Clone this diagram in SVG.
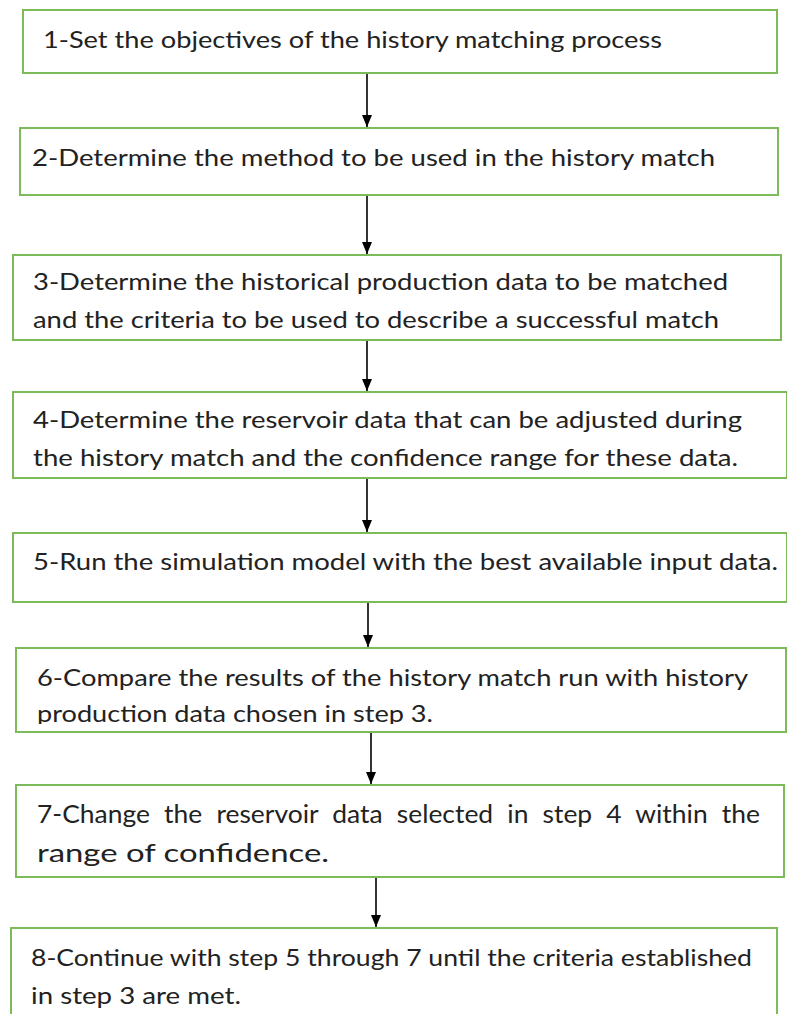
<svg xmlns="http://www.w3.org/2000/svg" width="787" height="1014" viewBox="0 0 787 1014">
  <style>
    .box { fill: #ffffff; stroke: #7dbb5a; stroke-width: 2; }
    .lbl { font-family: Lato, "Open Sans", "Liberation Sans", sans-serif; font-size: 23px; fill: #222222; }
    .big { font-size: 25px; }
    .wire { stroke: #000000; stroke-width: 1.6; fill: none; marker-end: url(#head); }
  </style>
  <defs>
    <!-- filled triangular arrowhead pointing along the line direction -->
    <marker id="head" viewBox="0 0 12 10" refX="12" refY="5" markerWidth="12" markerHeight="10" markerUnits="userSpaceOnUse" orient="auto">
      <path d="M0,0 L12,5 L0,10 Z" fill="#000000"/>
    </marker>
    <!-- inner text area of step 6; the last line runs past it and is cut -->
    <clipPath id="clip6"><rect x="16" y="648" width="770" height="76"/></clipPath>
  </defs>
  <rect width="787" height="1014" fill="#ffffff"/>

  <g id="step1">
    <rect class="box" x="23" y="10" width="754" height="63"/>
    <text class="lbl" x="43" y="48" textLength="619" lengthAdjust="spacingAndGlyphs">1-Set the objectives of the history matching process</text>
  </g>
  <g id="step2">
    <rect class="box" x="20" y="128" width="758" height="67"/>
    <text class="lbl" x="32" y="166" textLength="683" lengthAdjust="spacingAndGlyphs">2-Determine the method to be used in the history match</text>
  </g>
  <g id="step3">
    <rect class="box" x="13" y="255" width="768" height="85"/>
    <text class="lbl" x="33" y="290" textLength="695" lengthAdjust="spacingAndGlyphs">3-Determine the historical production data to be matched</text>
    <text class="lbl" x="33" y="328" textLength="686" lengthAdjust="spacingAndGlyphs">and the criteria to be used to describe a successful match</text>
  </g>
  <g id="step4">
    <rect class="box" x="13" y="392" width="774" height="86"/>
    <text class="lbl" x="33" y="428" textLength="709" lengthAdjust="spacingAndGlyphs">4-Determine the reservoir data that can be adjusted during</text>
    <text class="lbl" x="33" y="466" textLength="705" lengthAdjust="spacingAndGlyphs">the history match and the confidence range for these data.</text>
  </g>
  <g id="step5">
    <rect class="box" x="13" y="533" width="774" height="69"/>
    <text class="lbl" x="33" y="570" textLength="745" lengthAdjust="spacingAndGlyphs">5-Run the simulation model with the best available input data.</text>
  </g>
  <g id="step6">
    <rect class="box" x="16" y="648" width="770" height="84"/>
    <text class="lbl" x="37" y="686" textLength="711" lengthAdjust="spacingAndGlyphs">6-Compare the results of the history match run with history</text>
    <text class="lbl" x="37" y="722" textLength="396" lengthAdjust="spacingAndGlyphs" clip-path="url(#clip6)">production data chosen in step 3.</text>
  </g>
  <g id="step7">
    <rect class="box" x="16" y="785" width="768" height="92"/>
    <!-- justified first line: widened word gaps -->
    <text class="lbl big" x="37" y="823" word-spacing="7" textLength="723" lengthAdjust="spacingAndGlyphs">7-Change the reservoir data selected in step 4 within the</text>
    <text class="lbl big" x="37" y="862" textLength="292" lengthAdjust="spacingAndGlyphs">range of confidence.</text>
  </g>
  <g id="step8">
    <rect class="box" x="11" y="928" width="766" height="100"/>
    <text class="lbl" x="31" y="966" textLength="721" lengthAdjust="spacingAndGlyphs">8-Continue with step 5 through 7 until the criteria established</text>
    <text class="lbl" x="31" y="1004" textLength="210" lengthAdjust="spacingAndGlyphs">in step 3 are met.</text>
  </g>

  <g id="connectors">
    <line class="wire" x1="367" y1="74" x2="367" y2="127"/>
    <line class="wire" x1="367" y1="196" x2="367" y2="254"/>
    <line class="wire" x1="367" y1="341" x2="367" y2="391"/>
    <line class="wire" x1="367" y1="479" x2="367" y2="532"/>
    <line class="wire" x1="368" y1="603" x2="368" y2="647"/>
    <line class="wire" x1="371" y1="733" x2="371" y2="784"/>
    <line class="wire" x1="376" y1="878" x2="376" y2="927"/>
  </g>
</svg>
